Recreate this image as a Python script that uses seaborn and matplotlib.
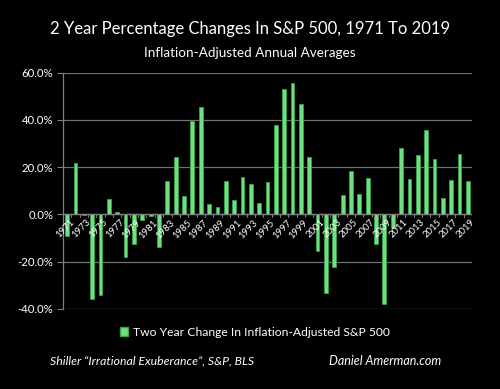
import matplotlib
matplotlib.use("Agg")
import matplotlib.pyplot as plt
import seaborn as sns
import pandas as pd
from matplotlib.ticker import FuncFormatter
from matplotlib.patches import Patch

years = list(range(1971, 2020))
values = [-9.0, 21.7, -0.3, -35.9, -34.2, 6.4, 1.1, -17.9, -12.6, -2.3,
          -0.8, -14.0, 14.1, 24.4, 7.9, 39.4, 45.6, 4.2, 3.0, 14.0,
          6.1, 15.7, 13.0, 4.7, 13.7, 37.7, 52.9, 55.6, 46.6, 24.4,
          -15.5, -33.3, -22.3, 8.0, 18.2, 8.6, 15.2, -12.7, -38.1, -5.9,
          27.9, 15.0, 25.0, 35.9, 23.3, 6.9, 14.7, 25.4, 14.3]
title = "2 Year Percentage Changes In S&P 500, 1971 To 2019"
subtitle = "Inflation-Adjusted Annual Averages"
legend_label = "Two Year Change In Inflation-Adjusted S&P 500"
source_left = "Shiller \u201cIrrational Exuberance\u201d, S&P, BLS"
source_right = "Daniel Amerman.com"

df = pd.DataFrame({"year": [str(y) for y in years], "value": values})

sns.set_theme(style="dark")
plt.rcParams['font.family'] = ['Lato', 'DejaVu Sans']

fig = plt.figure(figsize=(5.0, 3.89), dpi=100, facecolor="black")
ax = fig.add_axes([0.126, 0.2064, 0.818, 0.6067])
ax.set_facecolor("black")

green = "#6fe07f"
sns.barplot(data=df, x="year", y="value", color=green, width=0.45,
            edgecolor="#3aa04a", linewidth=0.6, saturation=1, ax=ax)

ax.set_ylim(-40, 60)
ax.set_xlim(-0.5, len(years) - 0.5)
ax.set_yticks([-40, -20, 0, 20, 40, 60])
ax.yaxis.set_major_formatter(FuncFormatter(lambda v, p: f"{v:.1f}%"))
ax.grid(axis="y", color="#707070", linewidth=0.9)
ax.grid(axis="x", visible=False)
ax.set_axisbelow(True)
ax.axhline(0, color="#808080", linewidth=0.9, zorder=1)

for s in ["top", "right", "bottom"]:
    ax.spines[s].set_visible(False)
ax.spines["left"].set_color("#808080")
ax.spines["left"].set_linewidth(0.9)

ax.tick_params(axis="y", colors="white", labelsize=8.2, length=4, width=0.8,
               left=True, color="#808080", pad=3)
ax.tick_params(axis="x", bottom=False)
ax.set_xticks(range(len(years)))
ax.set_xticklabels([])
ax.set_xlabel("")
ax.set_ylabel("")

# year labels at baseline, every other year
for i, y in enumerate(years):
    ax.plot([i - 0.5, i - 0.5], [0, -1.3], color="#808080", linewidth=0.7, zorder=1)
    if (y - 1971) % 2 == 0:
        ax.text(i + 0.3, -1.5, str(y), rotation=45, ha="right", va="top",
                rotation_mode="anchor", color="white", fontsize=6.8, zorder=3)

fig.text(0.5, 1 - 29 / 389, title, ha="center", va="center", color="white", fontsize=12)
fig.text(0.5, 1 - 53 / 389, subtitle, ha="center", va="center", color="white", fontsize=9.7)

handle = Patch(facecolor=green, edgecolor="#3aa04a", label=legend_label)
fig.legend(handles=[handle], loc="center", bbox_to_anchor=(0.51, 1 - 332 / 389),
           frameon=False, labelcolor="white", fontsize=8.7, handlelength=0.7,
           handleheight=0.7, handletextpad=0.4)

fig.text(50 / 500, 1 - 361 / 389, source_left, ha="left", va="center", color="white",
         fontsize=8.8, style="italic")
fig.text(329 / 500, 1 - 361 / 389, source_right, ha="left", va="center", color="white",
         fontsize=9, style="italic")

fig.savefig("out.png", dpi=100, facecolor="black")
